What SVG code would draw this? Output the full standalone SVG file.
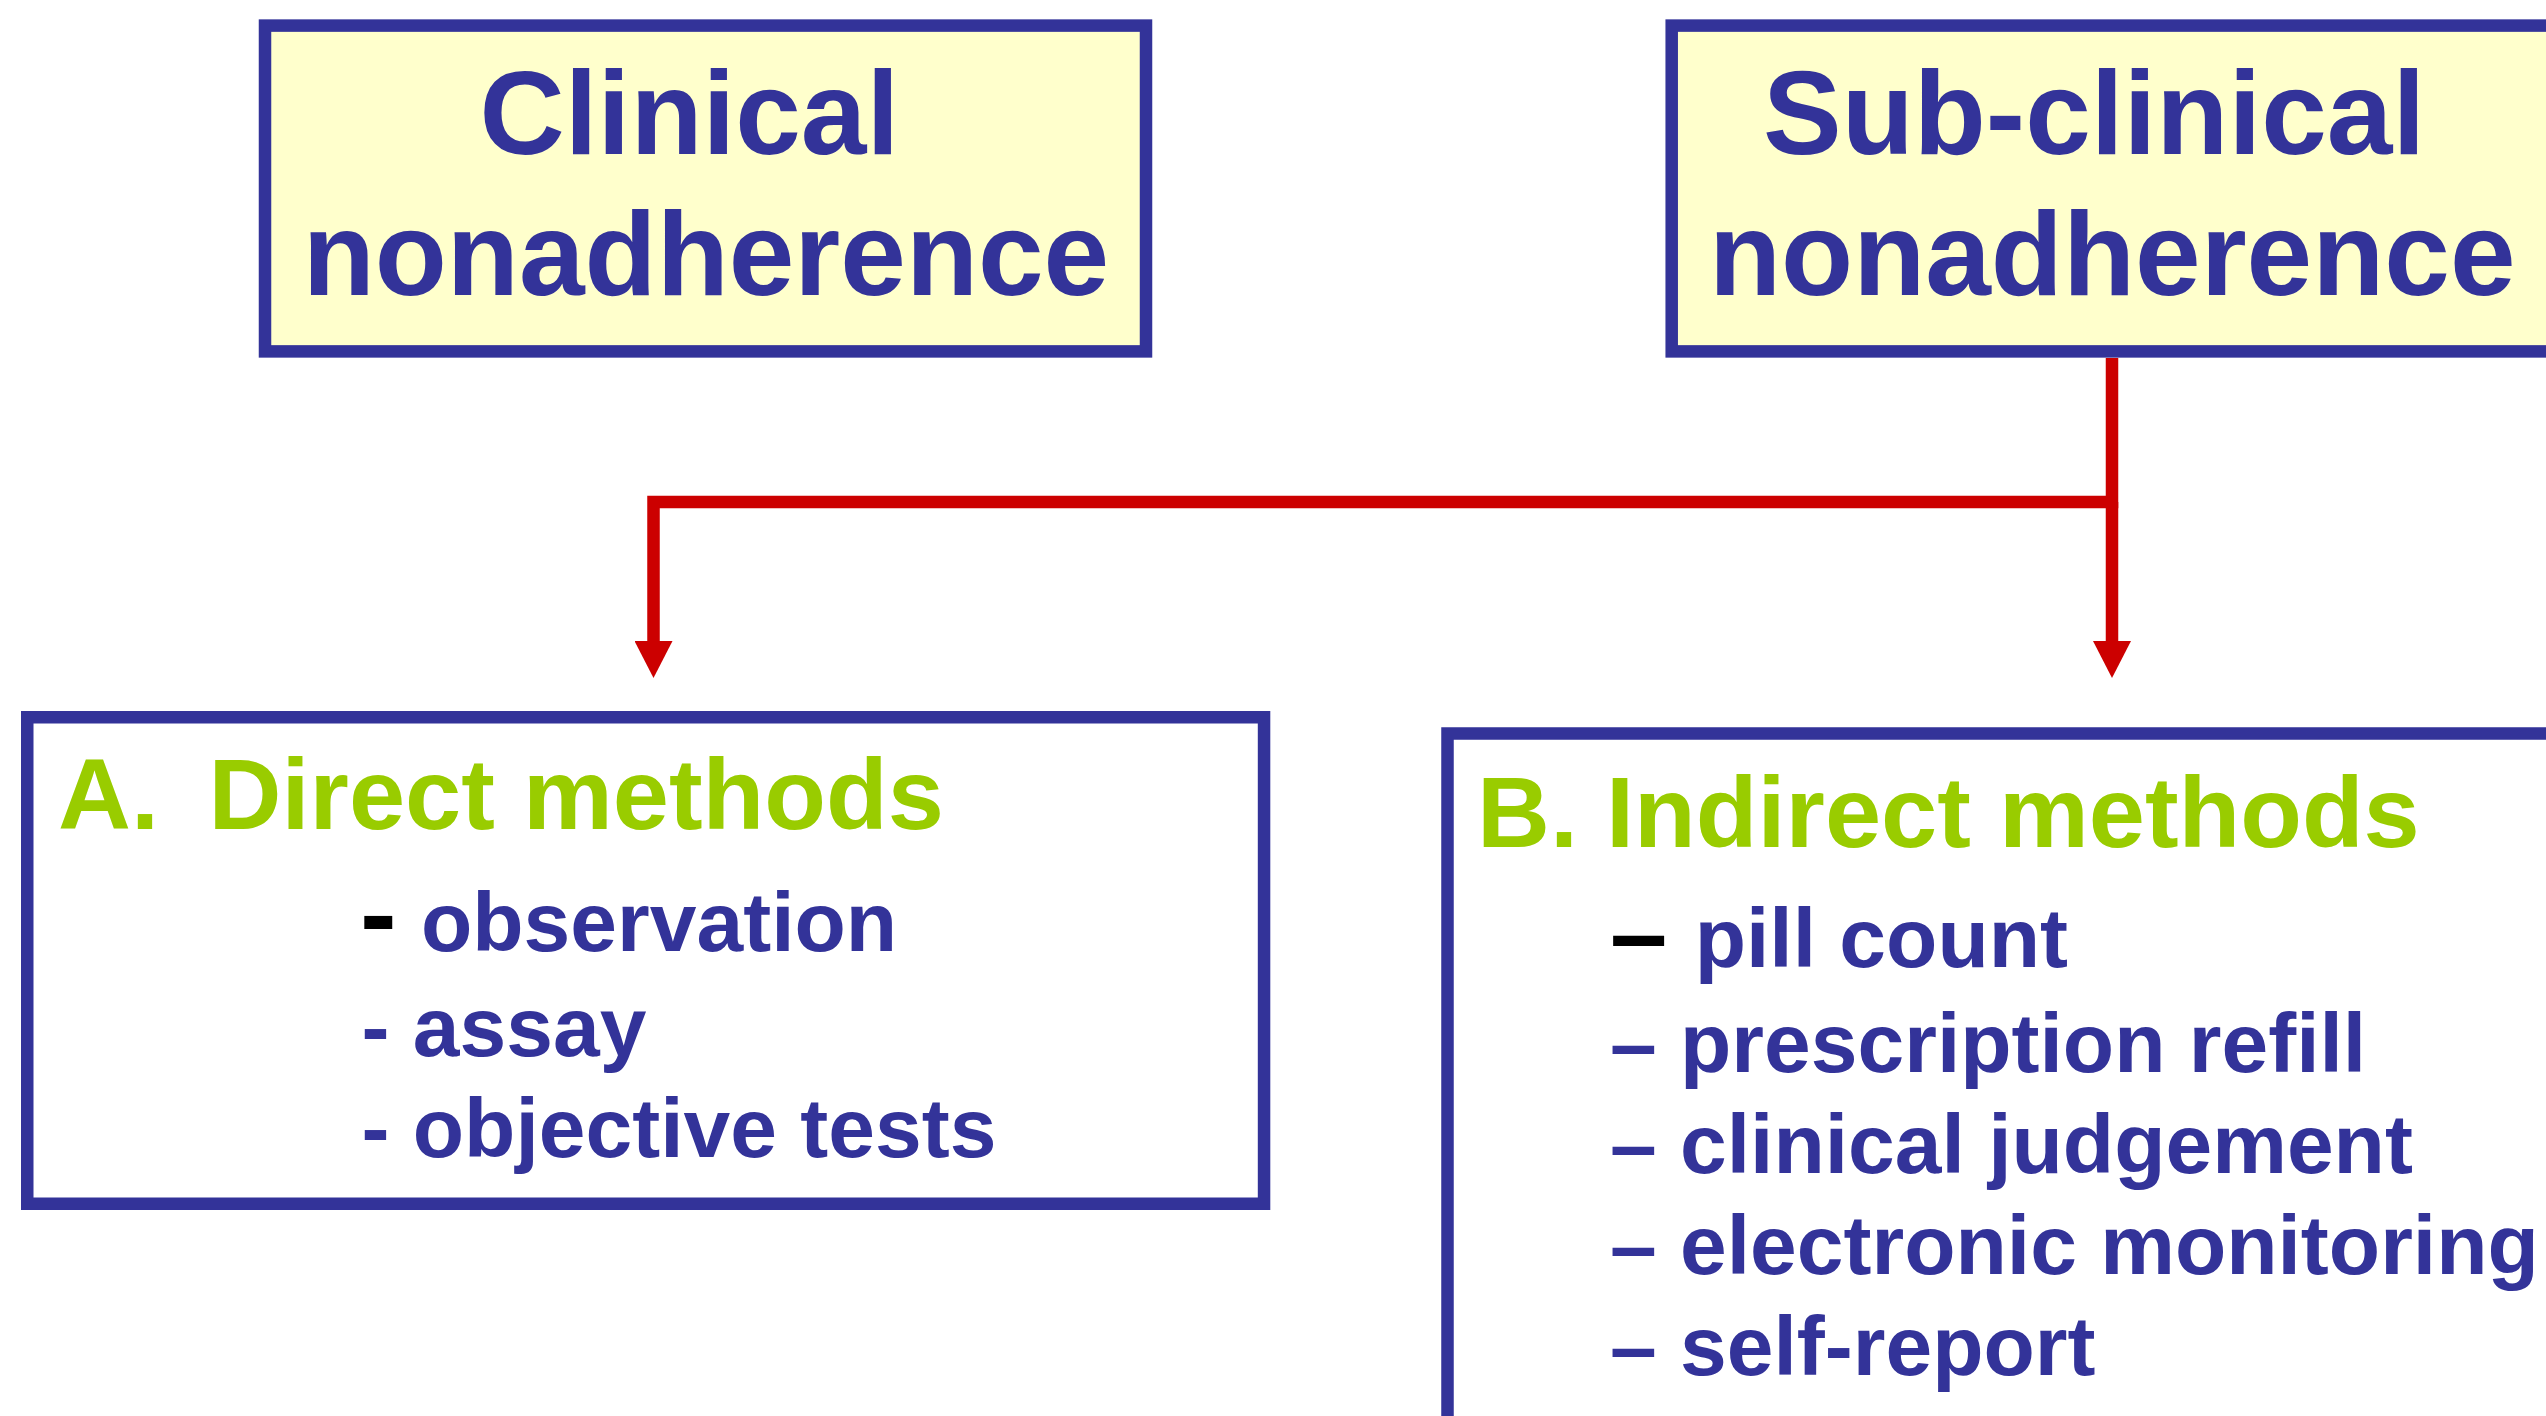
<svg xmlns="http://www.w3.org/2000/svg" width="2546" height="1416" viewBox="0 0 2546 1416">
  <style>
    .box { stroke: #333399; stroke-width: 12.5; }
    .yel { fill: #FFFFCC; }
    .wht { fill: #FFFFFF; }
    .t { font-family: "Liberation Sans", Arial, sans-serif; font-weight: bold; }
    .title { font-size: 118px; fill: #333399; }
    .head { font-size: 101px; fill: #99CC00; }
    .item { font-size: 84px; fill: #333399; }
    .blk { fill: #000000; }
    .conn { fill: none; stroke: #CC0000; stroke-width: 12.5; stroke-linejoin: miter; stroke-linecap: butt; }
  </style>
  <defs>
    <marker id="arrow" viewBox="0 0 37 38" markerUnits="userSpaceOnUse" markerWidth="37" markerHeight="38" refX="0" refY="19" orient="auto">
      <path d="M0,0 L37,19 L0,38 Z" fill="#CC0000"/>
    </marker>
  </defs>
  <rect width="2546" height="1416" fill="#FFFFFF"/>

  <g id="clinical">
    <rect class="box yel" x="265" y="25.6" width="881" height="325.8"/>
    <text class="t title" x="479.6" y="154">Clinical</text>
    <text class="t title" x="302.7" y="295">nonadherence</text>
  </g>

  <g id="subclinical">
    <rect class="box yel" x="1671.7" y="25.6" width="900" height="325.8"/>
    <text class="t title" x="1763" y="154">Sub-clinical</text>
    <text class="t title" x="1709" y="295">nonadherence</text>
  </g>

  <g id="connectors">
    <path class="conn" d="M2112,358 V502 H653.5 V641" marker-end="url(#arrow)"/>
    <path class="conn" d="M2112,502 V641" marker-end="url(#arrow)"/>
  </g>

  <g id="direct">
    <rect class="box wht" x="27.25" y="717.25" width="1236.8" height="486.5"/>
    <text class="t head" y="829"><tspan x="58">A.</tspan><tspan x="208.6">Direct methods</tspan></text>
    <text class="t item" y="951"><tspan class="blk" x="360" style="font-size:110px">-</tspan><tspan x="421">observation</tspan></text>
    <text class="t item" x="361.5" y="1056">- assay</text>
    <text class="t item" x="361.5" y="1157">- objective tests</text>
  </g>

  <g id="indirect">
    <rect class="box wht" x="1447.5" y="733.5" width="1120" height="720"/>
    <text class="t head" x="1477" y="847">B. Indirect methods</text>
    <text class="t item" y="967"><tspan class="blk" x="1610" y="969" style="font-size:103px">–</tspan><tspan x="1694.7" y="967">pill count</tspan></text>
    <text class="t item" x="1610" y="1072">– prescription refill</text>
    <text class="t item" x="1610" y="1173">– clinical judgement</text>
    <text class="t item" x="1610" y="1274">– electronic monitoring</text>
    <text class="t item" x="1610" y="1375">– self-report</text>
  </g>
</svg>
